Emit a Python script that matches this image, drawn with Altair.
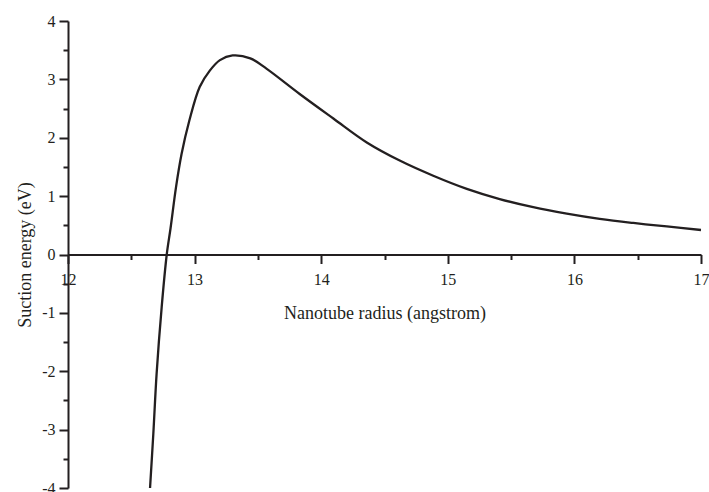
import altair as alt
import pandas as pd

radius = [12.648, 12.674, 12.70, 12.74, 12.78, 12.81, 12.853, 12.897, 12.958, 13.04,
          13.12, 13.20, 13.30, 13.44, 13.57, 13.83, 14.096, 14.36, 14.62, 14.885,
          15.15, 15.41, 15.675, 15.94, 16.2, 16.465, 16.73, 17.0]
energy = [-4.0, -3.07, -2.04, -0.9, 0.0, 0.45, 1.15, 1.72, 2.29, 2.87,
          3.15, 3.33, 3.41, 3.36, 3.18, 2.75, 2.33, 1.92, 1.61, 1.35,
          1.125, 0.95, 0.81, 0.70, 0.61, 0.54, 0.48, 0.42]

x_ticks = [12, 12.5, 13, 13.5, 14, 14.5, 15, 15.5, 16, 16.5, 17]
y_ticks = [-4, -3.5, -3, -2.5, -2, -1.5, -1, -0.5, 0, 0.5, 1, 1.5, 2, 2.5, 3, 3.5, 4]

df = pd.DataFrame({"r": radius, "e": energy})

W, H = 633, 467
ink = "#231f20"
font = "Liberation Serif"

tick_size = {"condition": {"test": "datum.value % 1 != 0", "value": 5}, "value": 9}
label_expr = "datum.value % 1 != 0 ? '' : '' + datum.value"

common = dict(
    domainColor=ink, domainWidth=2, tickColor=ink, tickWidth=2,
    labelColor=ink, titleColor=ink, labelFont=font, titleFont=font,
    labelFontSize=16, titleFontSize=18, titleFontWeight="normal",
    labelFlush=False, labelOverlap=False, grid=False,
    labelExpr=label_expr, tickSize=tick_size,
)

chart = alt.Chart(df).mark_line(color=ink, strokeWidth=2.3, interpolate="catmull-rom").encode(
    x=alt.X("r:Q", scale=alt.Scale(domain=[12, 17], nice=False, zero=False),
            axis=alt.Axis(title="Nanotube radius (angstrom)", values=x_ticks,
                          offset=-H / 2, labelPadding=8, titlePadding=17, **common)),
    y=alt.Y("e:Q", scale=alt.Scale(domain=[-4, 4], nice=False),
            axis=alt.Axis(title="Suction energy (eV)", values=y_ticks,
                          labelPadding=4, titlePadding=7, **common)),
).properties(
    width=W, height=H,
    autosize=alt.AutoSizeParams(type="none"),
    padding={"left": 68, "top": 21, "right": 8, "bottom": 4},
    background="white",
).configure_view(stroke=None)

chart.save("out.html", embed_options={"renderer": "svg", "actions": False})
